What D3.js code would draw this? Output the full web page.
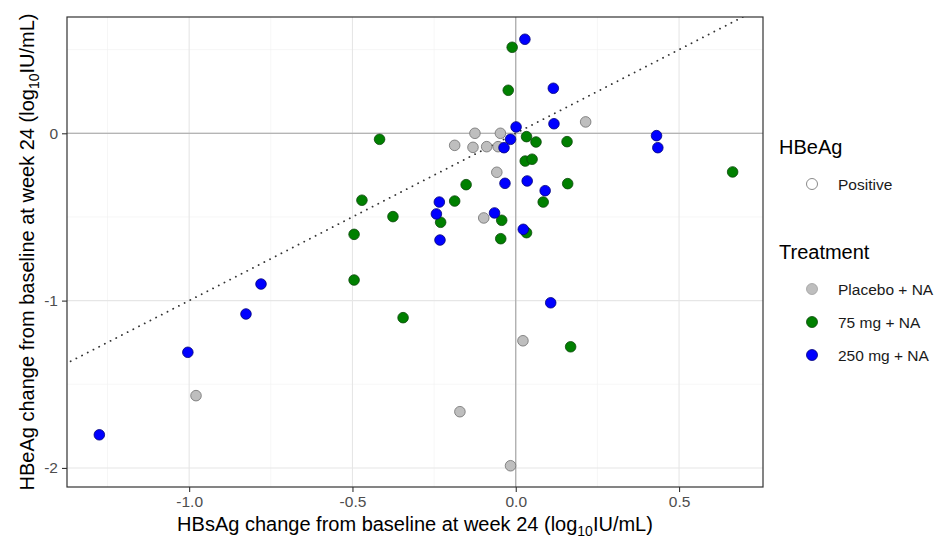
<!DOCTYPE html>
<html>
<head>
<meta charset="utf-8">
<script src="https://cdn.jsdelivr.net/npm/d3@7"></script>
<style>
  body { margin: 0; background: #fff; }
  svg { font-family: "Liberation Sans", Arial, sans-serif; }
</style>
</head>
<body>
<script>
// HBsAg change (x) and HBeAg change (y), log10 IU/mL, by treatment group
const placebo = [
  [0.214, 0.068], [-0.125, 0.0], [-0.047, 0.0], [-0.187, -0.072], [-0.131, -0.084],
  [-0.089, -0.080], [-0.054, -0.080], [-0.058, -0.233], [-0.098, -0.506],
  [0.022, -1.240], [-0.171, -1.664], [-0.016, -1.987], [-0.979, -1.568]
];
const mg75 = [
  [-0.011, 0.514], [-0.023, 0.257], [-0.417, -0.036], [0.033, -0.020], [0.062, -0.052],
  [0.157, -0.050], [0.029, -0.166], [0.050, -0.155], [-0.152, -0.307], [0.159, -0.301],
  [0.084, -0.411], [-0.471, -0.400], [-0.187, -0.405], [-0.376, -0.498], [-0.230, -0.532],
  [-0.043, -0.520], [-0.495, -0.604], [0.033, -0.594], [-0.046, -0.630], [-0.495, -0.877],
  [-0.345, -1.102], [0.168, -1.276], [0.664, -0.231]
];
const mg250 = [
  [0.028, 0.562], [0.115, 0.269], [0.117, 0.057], [0.001, 0.038], [-0.016, -0.036],
  [-0.036, -0.086], [-0.033, -0.299], [0.035, -0.285], [0.090, -0.343], [-0.234, -0.411],
  [-0.243, -0.482], [-0.065, -0.476], [0.023, -0.574], [-0.232, -0.638], [0.107, -1.013],
  [0.431, -0.014], [0.435, -0.086], [-0.780, -0.901], [-0.826, -1.080], [-1.004, -1.309],
  [-1.275, -1.802]
];

const groups = ["Placebo + NA", "75 mg + NA", "250 mg + NA"];
const groupData = [placebo, mg75, mg250];
const fills = ["#bebebe", "#008000", "#0000ff"];
const strokes = ["#6e6e6e", "#0b470b", "#00007a"];

const xTicks = [-1.0, -0.5, 0.0, 0.5];
const xMinor = [-1.25, -0.75, -0.25, 0.25];
const yTicks = [0, -1, -2];
const yMinor = [0.5, -0.5, -1.5];

const margin = { top: 17, right: 176, bottom: 57, left: 67 };
const W = 939, H = 544;
const width = W - margin.left - margin.right;
const height = H - margin.top - margin.bottom;

const svg = d3.select("body").append("svg")
    .attr("width", W)
    .attr("height", H);

const g = svg.append("g")
    .attr("transform", `translate(${margin.left},${margin.top})`);

const x = d3.scaleLinear().domain([-1.374, 0.757]).range([0, width]);
const y = d3.scaleLinear().domain([-2.114, 0.695]).range([height, 0]);

g.append("clipPath").attr("id", "clip")
  .append("rect").attr("width", width).attr("height", height);

// grid
g.selectAll(".vminor").data(xMinor).enter().append("line")
    .attr("x1", d => x(d)).attr("x2", d => x(d))
    .attr("y1", 0).attr("y2", height)
    .attr("stroke", "#f0f0f0").attr("stroke-width", 0.6);
g.selectAll(".hminor").data(yMinor).enter().append("line")
    .attr("y1", d => y(d)).attr("y2", d => y(d))
    .attr("x1", 0).attr("x2", width)
    .attr("stroke", "#f0f0f0").attr("stroke-width", 0.6);
g.selectAll(".vmajor").data(xTicks).enter().append("line")
    .attr("x1", d => x(d)).attr("x2", d => x(d))
    .attr("y1", 0).attr("y2", height)
    .attr("stroke", "#e6e6e6").attr("stroke-width", 1.1);
g.selectAll(".hmajor").data(yTicks).enter().append("line")
    .attr("y1", d => y(d)).attr("y2", d => y(d))
    .attr("x1", 0).attr("x2", width)
    .attr("stroke", "#e6e6e6").attr("stroke-width", 1.1);

// zero reference lines
g.append("line")
    .attr("x1", x(0)).attr("x2", x(0)).attr("y1", 0).attr("y2", height)
    .attr("stroke", "#a3a3a3").attr("stroke-width", 1.1);
g.append("line")
    .attr("y1", y(0)).attr("y2", y(0)).attr("x1", 0).attr("x2", width)
    .attr("stroke", "#a3a3a3").attr("stroke-width", 1.1);

// identity line
g.append("line")
    .attr("clip-path", "url(#clip)")
    .attr("x1", x(-2.2)).attr("y1", y(-2.2))
    .attr("x2", x(1)).attr("y2", y(1))
    .attr("stroke", "#333")
    .attr("stroke-width", 1.8)
    .attr("stroke-linecap", "round")
    .attr("stroke-dasharray", "0.1,6.3");

// points
groupData.forEach(function(data, i) {
  g.append("g")
    .selectAll("circle")
    .data(data)
    .enter()
    .append("circle")
      .attr("cx", d => x(d[0]))
      .attr("cy", d => y(d[1]))
      .attr("r", 5.3)
      .style("fill", fills[i])
      .style("stroke", strokes[i])
      .style("stroke-width", 0.8);
});

// panel border
g.append("rect")
    .attr("width", width).attr("height", height)
    .attr("fill", "none").attr("stroke", "#333").attr("stroke-width", 1.2);

// axes
const xAxis = g.append("g")
    .attr("transform", `translate(0,${height})`)
    .call(d3.axisBottom(x).tickValues(xTicks).tickFormat(d3.format(".1f")).tickSize(5).tickPadding(4));
const yAxis = g.append("g")
    .call(d3.axisLeft(y).tickValues(yTicks).tickFormat(d3.format("d")).tickSize(5).tickPadding(4));

[xAxis, yAxis].forEach(function(a) {
  a.select(".domain").remove();
  a.selectAll(".tick line").attr("stroke", "#333").attr("stroke-width", 1.1);
  a.selectAll(".tick text")
    .attr("fill", "#4d4d4d")
    .style("font-size", "15.5px")
    .style("font-family", "'Liberation Sans', Arial, sans-serif");
});
xAxis.selectAll(".tick text").text(d => d === 0 ? "0.0" : d3.format(".1f")(d).replace("−", "-"));
yAxis.selectAll(".tick text").text(d => String(d));

// axis titles
const xt = svg.append("text")
    .attr("x", margin.left + width / 2)
    .attr("y", 531)
    .attr("text-anchor", "middle")
    .style("font-size", "20px")
    .attr("fill", "#000");
xt.append("tspan").text("HBsAg change from baseline at week 24 (log");
xt.append("tspan").attr("dy", 5).style("font-size", "14px").text("10");
xt.append("tspan").attr("dy", -5).text("IU/mL)");

const yt = svg.append("text")
    .attr("transform", `translate(34,${margin.top + height / 2}) rotate(-90)`)
    .attr("text-anchor", "middle")
    .style("font-size", "20px")
    .attr("fill", "#000");
yt.append("tspan").text("HBeAg change from baseline at week 24 (log");
yt.append("tspan").attr("dy", 5).style("font-size", "14px").text("10");
yt.append("tspan").attr("dy", -5).text("IU/mL)");

// legends
const lg = svg.append("g");
lg.append("text").attr("x", 779).attr("y", 154)
    .style("font-size", "20px").text("HBeAg");
lg.append("circle").attr("cx", 812).attr("cy", 184).attr("r", 5.5)
    .style("fill", "#fff").style("stroke", "#8a8a8a").style("stroke-width", 1);
lg.append("text").attr("x", 838).attr("y", 189.5)
    .style("font-size", "15.5px").attr("fill", "#1a1a1a").text("Positive");

lg.append("text").attr("x", 779).attr("y", 259)
    .style("font-size", "20px").text("Treatment");
const legY = [289, 322, 355];
groups.forEach(function(name, i) {
  lg.append("circle").attr("cx", 812).attr("cy", legY[i]).attr("r", 5.5)
      .style("fill", fills[i]).style("stroke", i === 0 ? "#a0a0a0" : strokes[i]).style("stroke-width", 0.8);
  lg.append("text").attr("x", 838).attr("y", legY[i] + 5.5)
      .style("font-size", "15.5px").attr("fill", "#1a1a1a").text(name);
});
</script>
</body>
</html>
